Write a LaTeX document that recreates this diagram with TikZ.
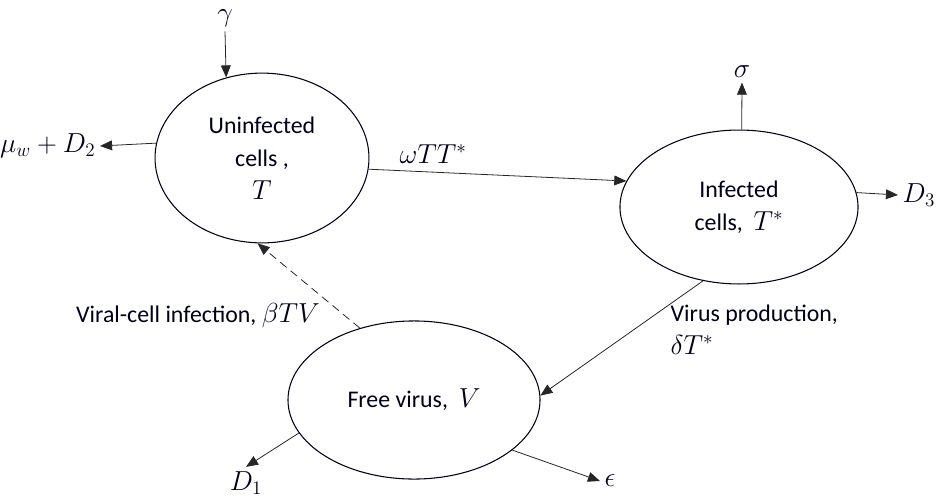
\documentclass[tikz,border=0pt]{standalone}
\usepackage{fontspec}
\setmainfont{Carlito}
\usetikzlibrary{shapes.geometric,arrows.meta}

\tikzstyle{cell} = [draw, ellipse, inner sep=0pt, align=center]
\tikzstyle{flow} = [-{Triangle[length=3.2mm,width=2.6mm]}, line width=0.6pt]
\tikzstyle{rate} = [font=\fontsize{20}{24}\selectfont]
\newcommand{\mth}[1]{{\fontsize{20}{24}\selectfont$#1$}}

\begin{document}
\begin{tikzpicture} [x=0.0265cm, y=-0.0265cm,
                     font=\fontsize{18}{25}\selectfont]

\def\colL{black!85};
\def\colT{black!90!blue};

\useasboundingbox (0,0) rectangle (945,499);

\node[cell,thick,
      minimum width=5.67cm,minimum height=4.5cm,
      draw=\colL,\colT]
      (T) at (262,158) {Uninfected\\cells ,\\\mth{T}};

\node[cell,thick,
      minimum width=6.31cm,minimum height=4.08cm,
      draw=\colL,\colT]
      (Ts) at (739,207) {Infected\\cells, \ \mth{T^{*}}};

\node[cell,thick,
      minimum width=6.68cm,minimum height=4.19cm,
      draw=\colL,\colT]
      (V) at (414,400) {Free virus, \ \mth{V}};

\node[rate,\colT] (gam) at (225,18) {$\gamma$};

\node[rate,\colT,anchor=east] (mu) at (100,146) {$\mu_w+D_2$};

\node[rate,\colT] (sig) at (742,72) {$\sigma$};

\node[rate,\colT,anchor=west] (D3) at (898,195) {$D_3$};

\node[rate,\colT] (D1) at (246,483) {$D_1$};

\node[rate,\colT,anchor=west] (eps) at (600,481) {$\epsilon$};

\node[\colT] (inf) at (198,316) {Viral-cell infection, \mth{\beta TV}};

\node[\colT,anchor=north west,align=left]
      (prod) at (666,300) {Virus production,\\\mth{\delta T^{*}}};

\draw[flow,\colL]
     (gam.south) -- (T.114);

\draw[flow,\colL]
     (T.172) -- (mu.east);

\draw[flow,\colL]
     (T.-6)
      -- node[rate,\colT,pos=0.25,above,yshift=1mm]{$\omega T T^{*}$}
     (Ts.167.6);

\draw[flow,\colL]
     (Ts.88) -- (sig.south);

\draw[flow,\colL]
     (Ts.7) -- (D3.west);

\draw[flow,\colL]
     (Ts.244) -- (V.2);

\draw[flow,\colL,dash pattern=on 2.2mm off 1.4mm]
     (V.127) -- (T.267);

\draw[flow,\colL]
     (V.196) -- (D1.north);

\draw[flow,\colL]
     (V.-27) -- (eps.west);

\end{tikzpicture}
\end{document}
